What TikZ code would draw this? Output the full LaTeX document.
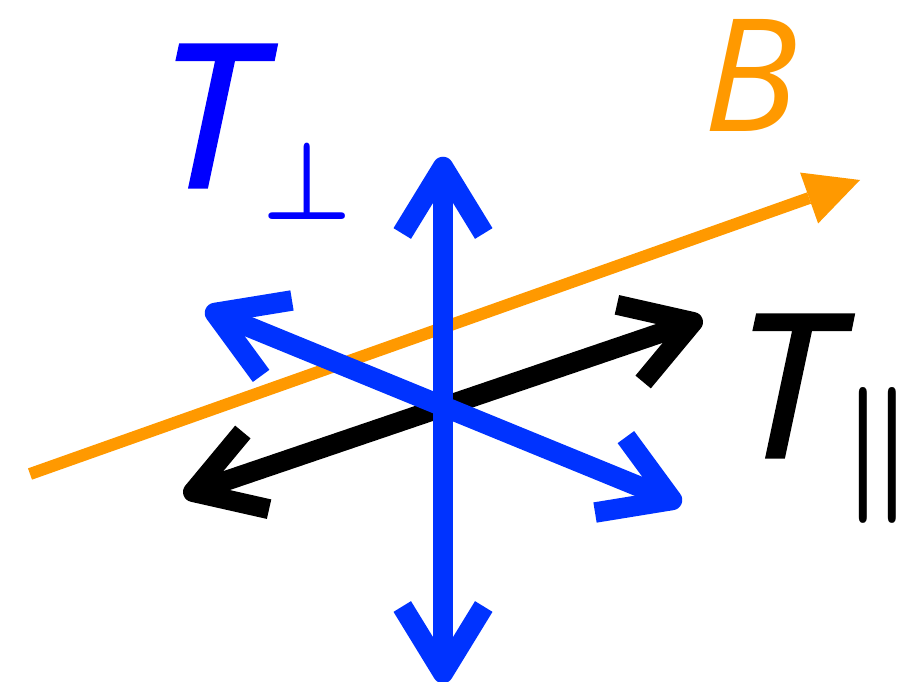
\documentclass[tikz,border=0pt]{standalone}
\usepackage{fontspec}
\setmainfont{Open Sans}
\newfontfamily\tfont[FakeBold=1.6]{Open Sans}
\usetikzlibrary{arrows.meta,calc}
\definecolor{arrblue}{RGB}{0,51,255}
\definecolor{lblue}{RGB}{0,0,255}
\definecolor{orng}{RGB}{255,153,0}
\tikzset{
  bluearr/.style={draw=arrblue, line width=20.5pt, line cap=butt, line join=round},
  blackarr/.style={draw=black, line width=20pt, line cap=butt, line join=round},
  bline/.style={draw=orng, line width=12pt, -{Triangle[length=54pt,width=54pt,line width=0pt]}},
  biglbl/.style={inner sep=0pt, anchor=base, font=\fontsize{199}{199}\selectfont\tfont\itshape},
}
\newcommand\chev[3]{\draw[#3] ($(#1)!78pt!31.5:(#2)$) -- (#1) -- ($(#1)!78pt!-31.5:(#2)$);}
\begin{document}
\begin{tikzpicture}[x=1pt,y=-1pt]
\useasboundingbox (0,0) rectangle (903,682);
% coordinates
\coordinate (os) at (30,474);
\coordinate (ot) at (860,180);
\coordinate (vt) at (443,167);
\coordinate (vb) at (443,673);
\coordinate (dul) at (215,313);
\coordinate (dlr) at (672,500);
\coordinate (kl) at (193,492);
\coordinate (kr) at (693,322);
% orange B line
\draw[bline] (os) -- (ot);
% black parallel arrow
\draw[blackarr] (kl) -- (kr);
\chev{kl}{kr}{blackarr}
\chev{kr}{kl}{blackarr}
% blue diagonal
\draw[bluearr] (dul) -- (dlr);
\chev{dul}{dlr}{bluearr}
\chev{dlr}{dul}{bluearr}
% blue vertical
\draw[bluearr] (vt) -- (vb);
\chev{vt}{vb}{bluearr}
\chev{vb}{vt}{bluearr}
% labels
\node[biglbl, text=lblue] (tperp) at (209,187) {T};
\node[inner sep=0pt, anchor=south, text=lblue] (perp) at (307,220) {\scalebox{10}[11]{\boldmath$\perp$}};
\node[biglbl, text=orng, font=\fontsize{157}{157}\selectfont\itshape] (bl) at (751,132) {B};
\node[biglbl, text=black] (tpar) at (786,457) {T};
\node[inner sep=0pt, anchor=center, text=black] (par) at (878,455) {\makebox[34pt][c]{\scalebox{13}[13.6]{\boldmath$\parallel$}}};
\end{tikzpicture}
\end{document}
